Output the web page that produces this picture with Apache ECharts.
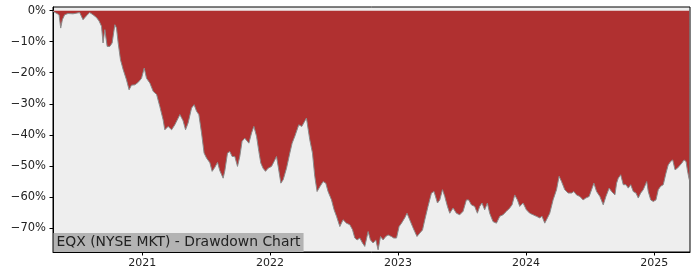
<!DOCTYPE html>
<html>
<head>
<meta charset="utf-8">
<script src="https://cdn.jsdelivr.net/npm/echarts@6/dist/echarts.min.js"></script>
<style>
html,body{margin:0;padding:0;background:#fff;}
#chart{width:700px;height:280px;}
</style>
</head>
<body>
<div id="chart"></div>
<script>
// Dates as decimal years
const yearPos = [
2020.305,2020.331,2020.352,2020.365,2020.378,2020.396,2020.422,2020.461,2020.513,2020.539,
2020.566,2020.591,2020.617,2020.644,2020.664,2020.683,2020.695,2020.709,2020.727,2020.748,
2020.766,2020.787,2020.800,2020.813,2020.831,2020.852,2020.878,2020.898,2020.917,2020.943,
2020.969,2020.995,2021.016,2021.034,2021.060,2021.086,2021.113,2021.138,2021.164,2021.177,
2021.203,2021.230,2021.242,2021.255,2021.295,2021.320,2021.339,2021.359,2021.386,2021.406,
2021.425,2021.443,2021.464,2021.484,2021.503,2021.529,2021.547,2021.568,2021.589,2021.607,
2021.633,2021.646,2021.667,2021.685,2021.703,2021.724,2021.745,2021.763,2021.781,2021.802,
2021.816,2021.834,2021.855,2021.873,2021.894,2021.912,2021.927,2021.945,2021.964,2021.984,
2022.011,2022.031,2022.050,2022.063,2022.084,2022.102,2022.128,2022.154,2022.172,2022.193,
2022.224,2022.248,2022.284,2022.310,2022.331,2022.349,2022.367,2022.388,2022.414,2022.435,
2022.453,2022.480,2022.500,2022.519,2022.545,2022.570,2022.597,2022.623,2022.644,2022.662,
2022.680,2022.701,2022.722,2022.740,2022.766,2022.784,2022.805,2022.826,2022.844,2022.863,
2022.883,2022.904,2022.922,2022.948,2022.966,2022.988,2023.008,2023.027,2023.052,2023.070,
2023.091,2023.113,2023.130,2023.148,2023.170,2023.191,2023.209,2023.234,2023.261,2023.281,
2023.308,2023.326,2023.347,2023.365,2023.386,2023.404,2023.430,2023.456,2023.482,2023.508,
2023.534,2023.552,2023.573,2023.599,2023.620,2023.638,2023.656,2023.677,2023.698,2023.716,
2023.742,2023.769,2023.795,2023.820,2023.847,2023.873,2023.891,2023.912,2023.933,2023.951,
2023.977,2024.003,2024.029,2024.055,2024.081,2024.107,2024.125,2024.146,2024.167,2024.185,
2024.211,2024.238,2024.258,2024.277,2024.302,2024.328,2024.355,2024.373,2024.394,2024.420,
2024.445,2024.466,2024.492,2024.511,2024.529,2024.550,2024.576,2024.602,2024.623,2024.648,
2024.667,2024.693,2024.706,2024.719,2024.738,2024.758,2024.779,2024.797,2024.816,2024.836,
2024.857,2024.875,2024.894,2024.914,2024.941,2024.953,2024.972,2024.992,2025.013,2025.031,
2025.050,2025.070,2025.091,2025.109,2025.128,2025.144,2025.162,2025.180,2025.195,2025.214,
2025.232,2025.248,2025.258,2025.273
];
// Drawdown in percent
const drawdown = [
-0.2,-0.8,-1.3,-5.6,-2.9,-1.3,-0.9,-1.0,-0.6,-2.9,
-1.6,-0.6,-1.3,-2.2,-3.3,-5.0,-10.4,-6.1,-11.5,-11.5,
-10.4,-4.5,-5.6,-10.4,-15.8,-19.0,-22.3,-25.5,-24.0,-23.9,
-23.1,-21.8,-18.5,-21.8,-23.3,-26.0,-27.0,-30.9,-35.2,-38.4,
-37.3,-38.4,-38.9,-36.8,-33.5,-35.5,-38.4,-36.2,-31.4,-30.3,
-32.4,-33.5,-39.4,-45.9,-47.5,-49.0,-51.8,-50.5,-48.9,-51.6,
-54.0,-51.6,-45.9,-45.4,-47.0,-47.0,-50.2,-47.0,-42.1,-41.1,
-40.5,-42.7,-39.4,-37.3,-40.5,-45.4,-49.1,-50.8,-51.8,-50.8,
-50.2,-48.6,-47.0,-50.2,-55.6,-54.5,-50.8,-45.9,-42.7,-40.5,
-36.8,-37.3,-34.6,-41.6,-45.9,-53.4,-58.3,-56.8,-55.1,-55.6,
-58.3,-61.0,-64.2,-66.3,-69.6,-67.4,-68.5,-69.0,-70.6,-73.3,
-73.9,-73.3,-74.9,-76.0,-71.2,-73.9,-74.9,-73.9,-77.1,-72.8,
-73.9,-72.8,-72.3,-72.8,-73.3,-73.3,-69.6,-68.5,-66.8,-65.3,
-67.4,-69.6,-71.2,-72.8,-71.7,-70.7,-67.4,-63.1,-58.8,-58.3,
-62.0,-61.0,-57.7,-59.9,-63.1,-65.3,-63.6,-65.3,-65.8,-64.7,
-61.0,-61.0,-62.6,-63.1,-65.3,-63.1,-62.0,-64.2,-62.0,-65.3,
-68.0,-68.5,-66.3,-65.8,-64.7,-63.6,-62.6,-59.4,-61.0,-63.1,
-62.0,-64.2,-65.3,-65.8,-66.3,-66.8,-66.3,-68.5,-66.8,-65.3,
-61.0,-57.7,-53.4,-55.1,-57.7,-58.8,-58.8,-58.3,-59.4,-59.9,
-61.0,-60.4,-59.9,-57.7,-55.6,-58.3,-59.9,-62.6,-59.9,-57.2,
-58.3,-59.4,-55.6,-54.0,-52.9,-56.1,-56.1,-57.2,-56.1,-58.3,
-58.8,-60.4,-58.8,-57.7,-55.1,-58.3,-61.0,-61.5,-61.0,-57.7,
-56.6,-56.1,-52.4,-49.7,-48.6,-48.1,-51.3,-50.8,-51.3,-49.2,
-48.1,-48.6,-51.3,-54.5
];
const yTicks = [0,-10,-20,-30,-40,-50,-60,-70];
const xTickYears = [2021,2022,2023,2024,2025];
const titleText = 'EQX (NYSE MKT) - Drawdown Chart';

function yearToTs(y){
  const Y = Math.floor(y);
  const a = Date.UTC(Y,0,1), b = Date.UTC(Y+1,0,1);
  return a + (y - Y) * (b - a);
}
const seriesData = yearPos.map((y,i)=>[yearToTs(y), drawdown[i]]);
const xTicks = xTickYears.map(y=>Date.UTC(y,0,1));

const chart = echarts.init(document.getElementById('chart'), null, {renderer:'canvas'});
chart.setOption({
  animation:false,
  backgroundColor:'#ffffff',
  title:{
    text:titleText,
    left:53.5,
    bottom:28,
    backgroundColor:'#b3b3b3',
    padding:[2,3,2,3],
    textStyle:{fontFamily:'DejaVu Sans',fontSize:13.9,fontWeight:'normal',color:'#222222',lineHeight:15}
  },
  grid:{
    left:53, right:10, top:7, bottom:28,
    show:true, backgroundColor:'#eeeeee', borderColor:'#000000', borderWidth:1
  },
  xAxis:{
    type:'value',
    min:yearToTs(2020.305),
    max:yearToTs(2025.279),
    axisLine:{show:true,onZero:false,lineStyle:{color:'#000',width:1}},
    splitLine:{show:false},
    axisTick:{show:true,customValues:xTicks,length:3.5,lineStyle:{color:'#000'}},
    axisLabel:{
      customValues:xTicks,
      formatter:(v)=>String(new Date(v).getUTCFullYear()),
      fontFamily:'DejaVu Sans',fontSize:11,color:'#222',margin:6
    }
  },
  yAxis:{
    type:'value',
    min:-77.8, max:1.2,
    axisLine:{show:true,lineStyle:{color:'#000',width:1}},
    splitLine:{show:false},
    axisTick:{show:true,customValues:yTicks,length:3.5,lineStyle:{color:'#000'}},
    axisLabel:{
      customValues:yTicks,
      formatter:(v)=> (v<0 ? '\u2212' + Math.abs(v) : String(v)) + '%',
      fontFamily:'DejaVu Sans',fontSize:11.5,color:'#222',margin:7
    }
  },
  series:[{
    type:'line',
    data:seriesData,
    showSymbol:false,
    symbol:'none',
    lineStyle:{color:'#8a8a8a',width:1},
    areaStyle:{color:'#b03030',opacity:1,origin:0},
    z:2
  }]
});
</script>
</body>
</html>
